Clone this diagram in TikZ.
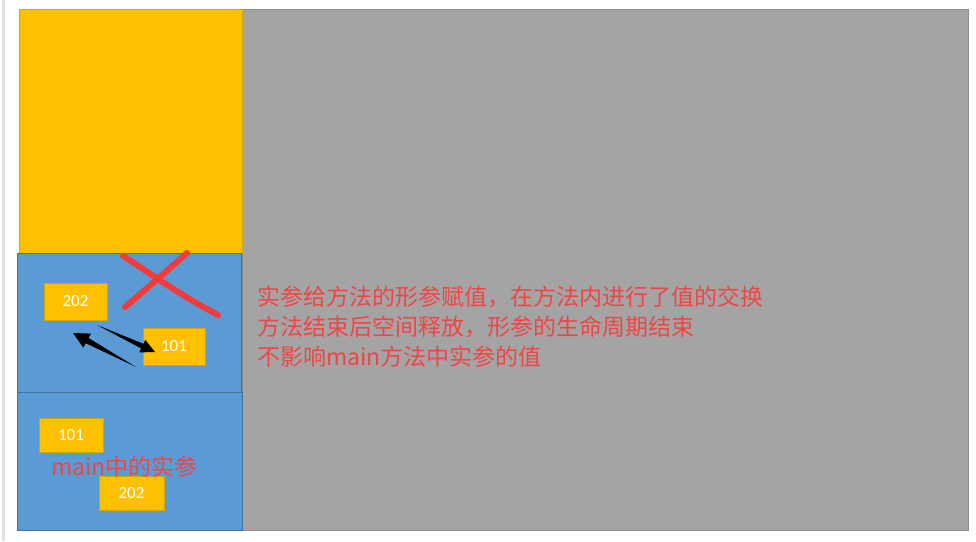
\documentclass[tikz,border=0pt]{standalone}
\usepackage{fontspec}
\setmainfont{Noto Sans CJK SC}
\newfontfamily\numfont{Carlito}
\definecolor{gold}{HTML}{FFC000}
\definecolor{goldline}{HTML}{D9A300}
\definecolor{stackblue}{HTML}{5B9BD5}
\definecolor{blueline}{HTML}{41719C}
\definecolor{panelgrey}{HTML}{A4A4A4}
\definecolor{greyline}{HTML}{8C8C8C}
\definecolor{notered}{HTML}{F24444}
\definecolor{crossred}{HTML}{F23C3C}
\definecolor{edgegrey}{HTML}{DCE2E5}
\tikzset{
  valbox/.style={draw=goldline, fill=gold, line width=0.6pt, inner sep=0pt, text=white, font=\numfont\fontsize{17}{17}\selectfont},
  note/.style={anchor=west, text=notered, inner sep=0pt, font=\fontsize{23}{23}\selectfont},
  crossline/.style={draw=crossred, line width=6pt, line cap=round, line join=round},
  frame/.style={draw=blueline, fill=stackblue, line width=0.8pt, inner sep=0pt, anchor=north west},
}
\begin{document}
\begin{tikzpicture}[x=1pt,y=-1pt]
\useasboundingbox (0,0) rectangle (976,541);
\fill[white] (0,0) rectangle (976,541);
\fill[edgegrey] (2,0) rectangle (5,541);
% grey panel
\draw[greyline, fill=panelgrey, line width=0.8pt] (242,9) rectangle (968,530);
% heap / upper yellow
\draw[goldline, fill=gold, line width=0.8pt] (19,9) rectangle (242,253);
% stack frames
\node[frame, minimum width=224pt, minimum height=139pt] (frameA) at (17,253) {};
\node[frame, minimum width=225pt, minimum height=138pt] (frameB) at (17,392) {};
% value boxes
\node[valbox, minimum width=63pt, minimum height=37pt] (a202) at (75.5,301.5) {202};
\node[valbox, minimum width=62pt, minimum height=37pt] (a101) at (174,346.5) {101};
\node[valbox, minimum width=64pt, minimum height=34pt] (m101) at (71,435) {101};
\node[valbox, minimum width=65pt, minimum height=34pt] (m202) at (131.5,493) {202};
% labels
\node[text=notered, inner sep=0pt, font=\fontsize{23}{23}\selectfont] (mlabel) at (124.5,467) {main中的实参};
\node[note] (n1) at (257,297) {实参给方法的形参赋值，在方法内进行了值的交换};
\node[note] (n2) at (257,327) {方法结束后空间释放，形参的生命周期结束};
\node[note] (n3) at (257,357) {不影响main方法中实参的值};
% swap arrows (tapered)
\coordinate (t1) at (97,325);
\coordinate (h1) at (155,352);
\coordinate (t2) at (136,367);
\coordinate (h2) at (73,333);
\fill[black] (t1) -- (143.4,343.8) -- (145.3,339.8) -- (h1) -- (139.3,352.4) -- (141.2,348.4) -- cycle;
\fill[black] (t2) -- (88.5,338.0) -- (90.9,333.6) -- (h2) -- (83.3,347.6) -- (85.7,343.2) -- cycle;
% red cross
\draw[crossline] (123,256) .. controls (150,273) and (175,292) .. (218,315);
\draw[crossline] (187,253) .. controls (170,268) and (145,290) .. (125,307);
\end{tikzpicture}
\end{document}
